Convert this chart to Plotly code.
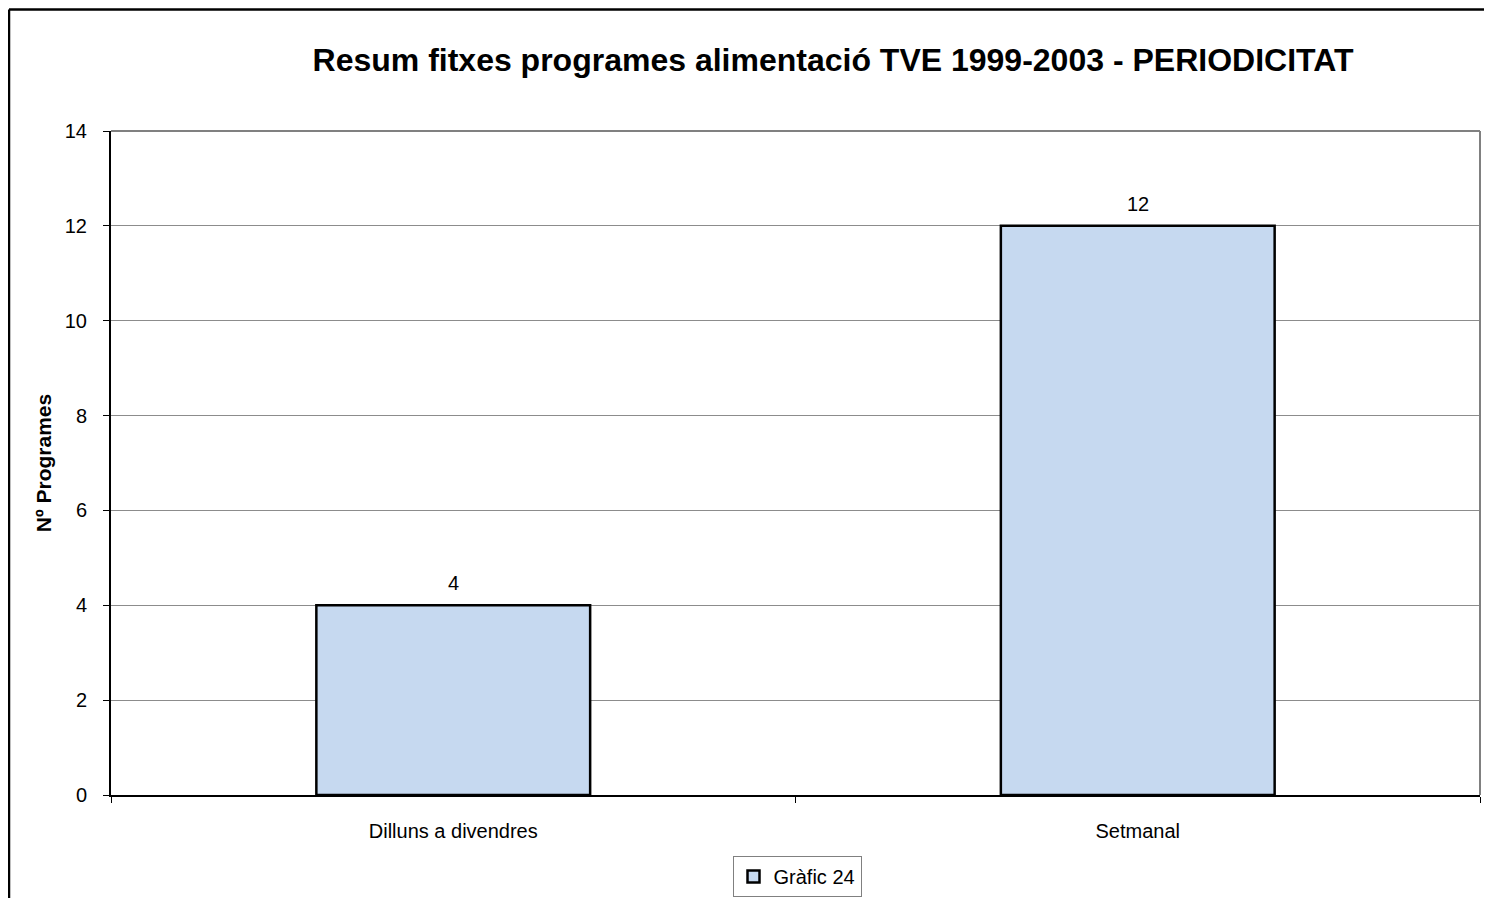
import plotly.graph_objects as go

categories = ["Dilluns a divendres", "Setmanal"]
values = [4, 12]
series_name = "Gràfic 24"
title_text = "Resum fitxes programes alimentació TVE 1999-2003 - PERIODICITAT"
y_title = "Nº Programes"
y_ticks = [0, 2, 4, 6, 8, 10, 12, 14]

# figure coordinates (page has 8px body margin)
W, H = 1484, 890
L, R, T, B = 103, 12, 123, 103
pw, ph = W - L - R, H - T - B

font = "Liberation Sans, Arial, sans-serif"

fig = go.Figure()
fig.add_trace(go.Bar(
    x=categories, y=values, name=series_name,
    marker=dict(color="#C6D9F0", line=dict(color="black", width=2.5)),
    width=0.4,
    showlegend=True,
))

for c, v in zip(categories, values):
    fig.add_annotation(x=c, y=v, text=str(v), showarrow=False, yanchor="bottom",
                       yshift=9, font=dict(family=font, size=20, color="black"))

fig.update_layout(
    template="none",
    width=W, height=H,
    margin=dict(l=L, r=R, t=T, b=B, pad=0),
    paper_bgcolor="white", plot_bgcolor="white",
    font=dict(family=font, size=20, color="black"),
    title=dict(text="<b>" + title_text + "</b>", x=(825 - L) / pw, xref="paper",
               xanchor="center", y=1 - 52 / H, yref="container", yanchor="middle",
               font=dict(family=font, size=32, color="black")),
    xaxis=dict(showgrid=False, showline=True, linecolor="black", linewidth=2,
               ticks="outside", tickson="boundaries", ticklen=6, tickcolor="black",
               ticklabelstandoff=17, automargin=False,
               tickfont=dict(family=font, size=20), mirror=False),
    yaxis=dict(range=[0, 14], tickvals=y_ticks, showgrid=True, gridcolor="#8c8c8c", gridwidth=1,
               showline=True, linecolor="black", linewidth=2, ticks="outside", ticklen=6,
               tickcolor="black", tickfont=dict(family=font, size=20), zeroline=False,
               ticklabelstandoff=12, automargin=False,
               title=dict(text="<b>" + y_title + "</b>", font=dict(family=font, size=21), standoff=7)),
    legend=dict(orientation="h", x=(789 - L) / pw, xanchor="center",
                y=1 - 848 / H, yref="container", yanchor="top",
                bordercolor="#808080", borderwidth=1, bgcolor="white", itemwidth=30,
                font=dict(family=font, size=20)),
)

# plot area border (top/right gray)
fig.add_shape(type="line", xref="paper", yref="paper", x0=0, x1=1, y0=1, y1=1,
              line=dict(color="#808080", width=2))
fig.add_shape(type="line", xref="paper", yref="paper", x0=1, x1=1, y0=0, y1=1,
              line=dict(color="#808080", width=2))
# outer chart border (left and top edges visible)
bx = (1 - L) / pw
by = (H - B - 1.5) / ph
fig.add_shape(type="line", xref="paper", yref="paper", x0=bx, x1=bx, y0=-B / ph, y1=by,
              line=dict(color="black", width=2.5))
fig.add_shape(type="line", xref="paper", yref="paper", x0=bx, x1=(W - L) / pw, y0=by, y1=by,
              line=dict(color="black", width=2.5))

fig.write_html("out.html")
